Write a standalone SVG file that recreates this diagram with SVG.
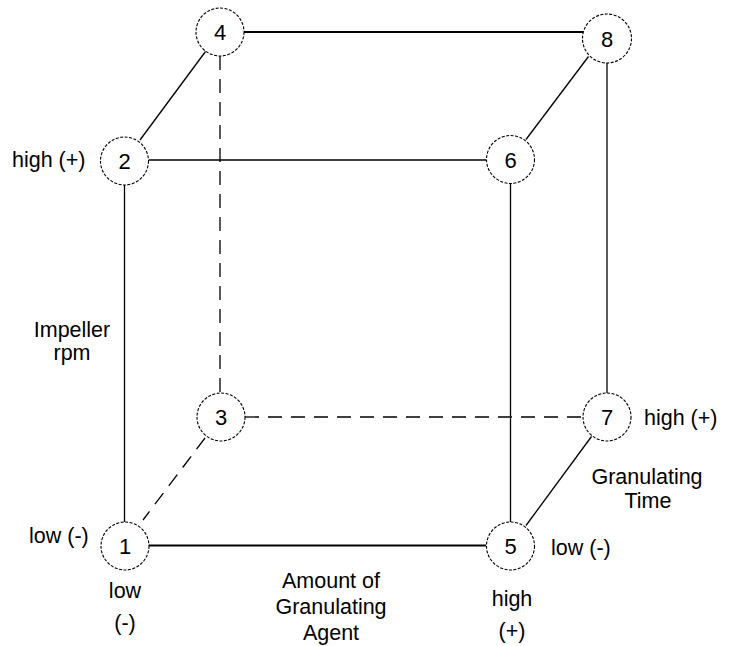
<svg xmlns="http://www.w3.org/2000/svg" width="734" height="646" viewBox="0 0 734 646">
<style>
.bg{fill:#fff}
.node circle{fill:#fff;stroke:#000;stroke-width:1.1;stroke-dasharray:3 1.5}
.node text{font-family:"Liberation Sans",Arial,sans-serif;font-size:22px;fill:#000;text-anchor:middle}
.e{stroke:#000;stroke-width:1.3;fill:none}
.d{stroke:#000;stroke-width:1.3;fill:none;stroke-dasharray:14 9}
.lbl{font-family:"Liberation Sans",Arial,sans-serif;font-size:21.5px;fill:#000}
.c{text-anchor:middle}
</style>
<rect class="bg" width="734" height="646"/>
<g id="connectors">
<line class="e" x1="244" y1="32" x2="583" y2="32" style="stroke-width:1.8"/>
<line class="e" x1="205.5" y1="51.5" x2="140" y2="140"/>
<line class="d" x1="220" y1="56" x2="220" y2="393"/>
<line class="e" x1="149" y1="160" x2="486" y2="160"/>
<line class="e" x1="124.5" y1="184" x2="124.5" y2="522"/>
<line class="e" x1="588.5" y1="56.5" x2="526" y2="139.5"/>
<line class="e" x1="607" y1="63" x2="607" y2="393"/>
<line class="e" x1="510.5" y1="184" x2="510.5" y2="522"/>
<line class="d" x1="245" y1="417" x2="583" y2="417"/>
<line class="d" x1="205" y1="438" x2="143" y2="520"/>
<line class="e" x1="149" y1="545.5" x2="486" y2="545.5" style="stroke-width:2"/>
<line class="e" x1="591.5" y1="436.5" x2="526" y2="525.5"/>
</g>
<g id="node1" class="node"><circle cx="125" cy="546" r="24"/><text x="125" y="554">1</text></g>
<g id="node2" class="node"><circle cx="124.5" cy="161" r="24"/><text x="124.5" y="169">2</text></g>
<g id="node3" class="node"><circle cx="221" cy="417" r="24"/><text x="221" y="425">3</text></g>
<g id="node4" class="node"><circle cx="220" cy="32" r="24"/><text x="220" y="40">4</text></g>
<g id="node5" class="node"><circle cx="510.5" cy="546" r="24"/><text x="510.5" y="554">5</text></g>
<g id="node6" class="node"><circle cx="510.5" cy="159.5" r="24"/><text x="510.5" y="167.5">6</text></g>
<g id="node7" class="node"><circle cx="607" cy="417" r="24"/><text x="607" y="425">7</text></g>
<g id="node8" class="node"><circle cx="607" cy="38.5" r="24.5"/><text x="607" y="46.5">8</text></g>
<g id="labels">
<text class="lbl" x="12" y="167">high (+)</text>
<text class="lbl c" x="72" y="337">Impeller</text>
<text class="lbl c" x="72" y="360">rpm</text>
<text class="lbl" x="29" y="543">low (-)</text>
<text class="lbl c" x="125" y="598">low</text>
<text class="lbl c" x="125" y="630">(-)</text>
<text class="lbl c" x="331" y="588">Amount of</text>
<text class="lbl c" x="331" y="614">Granulating</text>
<text class="lbl c" x="331" y="640">Agent</text>
<text class="lbl c" x="512" y="606">high</text>
<text class="lbl c" x="512" y="638">(+)</text>
<text class="lbl" x="551" y="555">low (-)</text>
<text class="lbl" x="644" y="425">high (+)</text>
<text class="lbl c" x="647" y="484">Granulating</text>
<text class="lbl c" x="648" y="508">Time</text>
</g>
</svg>
